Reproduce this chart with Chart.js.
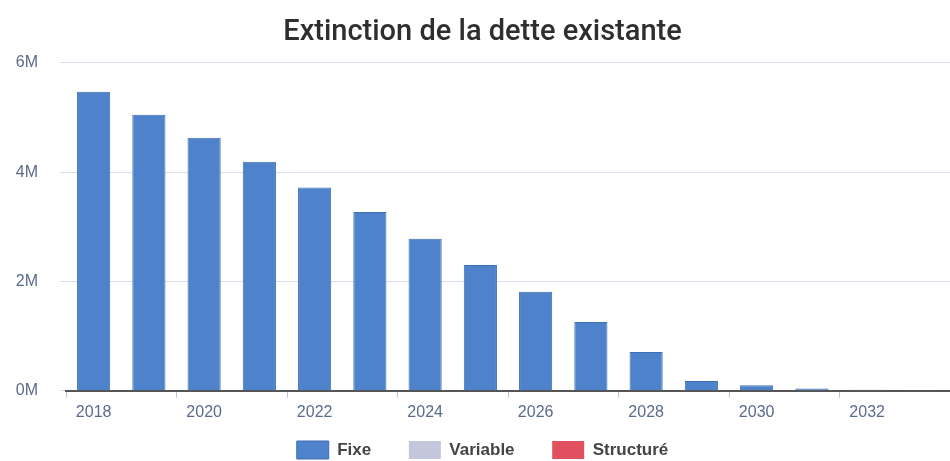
<!DOCTYPE html>
<html>
<head>
<meta charset="utf-8">
<script src="https://cdn.jsdelivr.net/npm/chart.js@4.4.1/dist/chart.umd.min.js"></script>
<style>
  html, body { margin: 0; padding: 0; background: #fff; }
  #wrap { width: 950px; height: 461px; }
</style>
</head>
<body>
<div id="wrap"><canvas id="graphique"></canvas></div>
<script>
// Données
let annees = ["2018", "2019", "2020", "2021", "2022", "2023", "2024", "2025",
              "2026", "2027", "2028", "2029", "2030", "2031", "2032", "2033"];
let fixe = [5470000, 5050000, 4630000, 4190000, 3720000, 3270000, 2780000, 2300000,
            1810000, 1260000, 710000, 180000, 100000, 40000, 20000, 5000];
let variable = [0, 0, 0, 0, 0, 0, 0, 0, 0, 0, 0, 0, 0, 0, 0, 0];
let structure = [0, 0, 0, 0, 0, 0, 0, 0, 0, 0, 0, 0, 0, 0, 0, 0];
let yTicks = [0, 2000000, 4000000, 6000000];

// la légende est plus basse que ce que Chart.js donne par défaut
const legendeBasse = {
    id: "legendeBasse",
    beforeUpdate(chart) {
        let lg = chart.legend;
        if (!lg || lg._patched) return;
        let fit = lg.fit;
        lg.fit = function () {
            fit.call(this);
            this.height -= 8;
        };
        lg._patched = true;
    }
};

let ctx = document.getElementById("graphique").getContext("2d");

new Chart(ctx, {
    type: "bar",
    data: {
        labels: annees,
        datasets: [
            { label: "Fixe", data: fixe, backgroundColor: "#4e83cb", borderColor: "#3f6fb3", borderWidth: 1 },
            { label: "Variable", data: variable, backgroundColor: "#c3c6dd" },
            { label: "Structuré", data: structure, backgroundColor: "#e0505f" }
        ]
    },
    plugins: [legendeBasse],
    options: {
        responsive: true,
        maintainAspectRatio: false,
        animation: false,
        layout: { padding: { left: 12, right: -3, top: 4, bottom: 0 } },
        datasets: { bar: { categoryPercentage: 1, barPercentage: 0.6 } },
        scales: {
            x: {
                stacked: true,
                grid: {
                    display: true, drawOnChartArea: false, drawTicks: true, tickLength: 7,
                    color: function (c) { return c.index % 2 === 0 ? "#b8c4dc" : "rgba(0,0,0,0)"; }
                },
                border: { display: true, color: "#555", width: 2 },
                ticks: {
                    color: "#5b6b8c",
                    font: { family: "Liberation Sans", size: 16 },
                    maxRotation: 0,
                    autoSkip: false,
                    padding: 5,
                    callback: function (v, i) { return i % 2 === 0 ? annees[i] : ""; }
                }
            },
            y: {
                stacked: true,
                min: 0,
                max: 6000000,
                afterBuildTicks: function (axis) { axis.ticks = yTicks.map(v => ({ value: v })); },
                afterFit: function (axis) { axis.width = 54; },
                grid: { color: "#dcdcec", drawTicks: true, tickLength: 6 },
                border: { display: false },
                ticks: {
                    color: "#5b6b8c",
                    font: { family: "Liberation Sans", size: 16 },
                    padding: 22,
                    callback: function (v) { return (v / 1000000) + "M"; }
                }
            }
        },
        plugins: {
            title: {
                display: true,
                text: "Extinction de la dette existante",
                color: "#2e2e2e",
                font: { family: "Roboto", size: 29, weight: "500" },
                padding: { top: 11, bottom: 13 }
            },
            legend: {
                position: "bottom",
                labels: {
                    color: "#444",
                    boxWidth: 32,
                    boxHeight: 18,
                    padding: 14,
                    font: { family: "Liberation Sans", size: 17, weight: "bold" },
                    generateLabels: function (chart) {
                        let items = Chart.defaults.plugins.legend.labels.generateLabels(chart);
                        return items.map((it, i) => {
                            if (i < items.length - 1) it.text = it.text + "     ";
                            return it;
                        });
                    }
                }
            },
            tooltip: { enabled: false }
        }
    }
});
</script>
</body>
</html>
